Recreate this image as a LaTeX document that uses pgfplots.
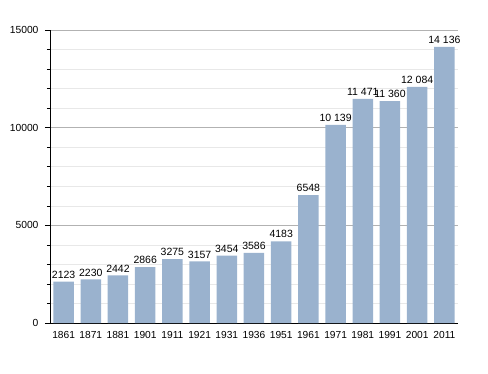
\documentclass[border=0pt]{standalone}
\usepackage{fontspec}
\setmainfont{Liberation Sans}
\usepackage{pgfplots}
\pgfplotsset{compat=1.18}
\definecolor{barblue}{HTML}{9AB2CE}
\begin{document}
\begin{tikzpicture}[x=1pt,y=1pt]
\begin{axis}[
  at={(0pt,0pt)}, anchor=south west,
  scale only axis, width=408pt, height=293pt,
  ymin=0, ymax=15000, xmin=-0.5, xmax=14.5,
  axis lines=left, axis line style={-, black, line width=0.8pt},
  ytick={0,5000,10000,15000}, minor ytick={1000,2000,3000,4000,6000,7000,8000,9000,11000,12000,13000,14000},
  ymajorgrids, yminorgrids,
  major grid style={color=black!30, line width=0.6pt},
  minor grid style={color=black!9, line width=0.6pt},
  tick align=outside,
  major tick length=5pt, minor tick length=3pt,
  tick style={black, line width=0.6pt},
  xtick=data, xtick style={draw=none},
  xticklabels={1861,1871,1881,1901,1911,1921,1931,1936,1951,1961,1971,1981,1991,2001,2011},
  /pgf/number format/assume math mode=true,
  scaled y ticks=false,
  yticklabel style={/pgf/number format/1000 sep={}, font=\fontsize{10.3}{12}\selectfont, xshift=-3pt},
  xticklabel style={font=\fontsize{10.2}{12}\selectfont},
  ybar, bar width=20.5pt,
  nodes near coords={\pgfmathprintnumber[1000 sep={\ },min exponent for 1000 sep=4,fixed,precision=0]{\pgfplotspointmeta}},
  every node near coord/.append style={font=\fontsize{10.5}{12}\selectfont, black, inner sep=3pt},
]
\addplot[fill=barblue, draw=none] coordinates {
(0,2123) (1,2230) (2,2442) (3,2866) (4,3275) (5,3157) (6,3454) (7,3586)
(8,4183) (9,6548) (10,10139) (11,11471) (12,11360) (13,12084) (14,14136)};
\end{axis}
\path[use as bounding box] (-50pt,-50pt) rectangle (438pt,323pt);
\end{tikzpicture}
\end{document}
